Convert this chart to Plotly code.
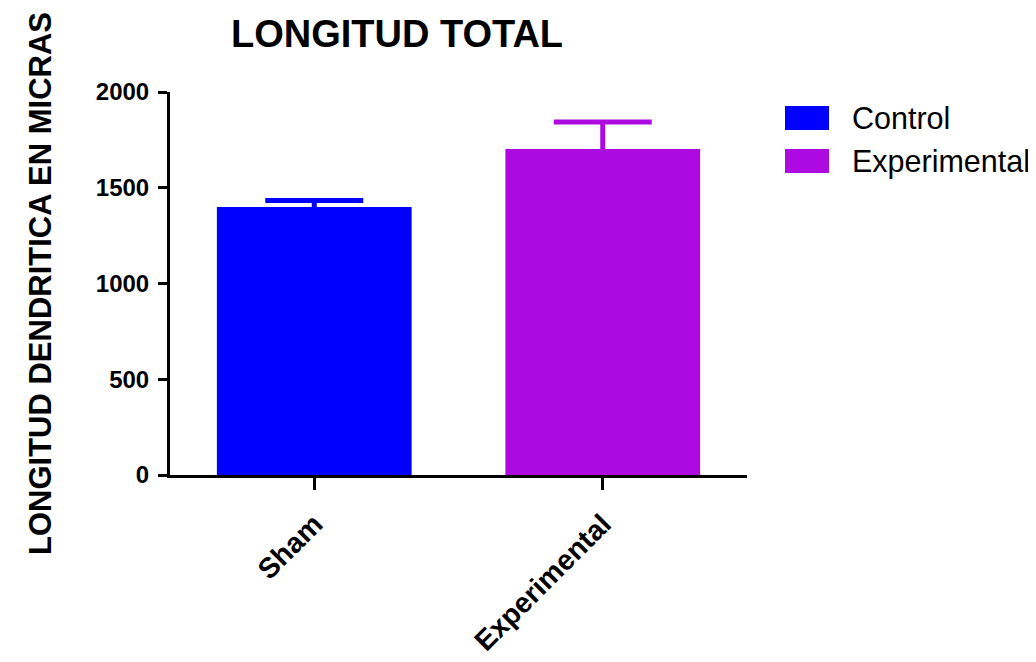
import plotly.graph_objects as go

categories = ["Sham", "Experimental"]
series_names = ["Control", "Experimental"]
means = [1400, 1703]
errors = [34, 140]
colors = ["#0000FF", "#AD0AE1"]
y_ticks = [0, 500, 1000, 1500, 2000]

# page body has an 8px margin, so the figure starts 8px in from the window edge
OFF = 8
W, H = 1036 - OFF, 662 - OFF
L, T = 170 - OFF, 92 - OFF
pw, ph = 577, 383
R = W - L - pw
B = H - T - ph
FONT = "Liberation Sans, Arial, sans-serif"

fig = go.Figure()
for name, cat, m, e, c in zip(series_names, categories, means, errors, colors):
    fig.add_trace(go.Bar(
        name=name, x=[cat], y=[m], width=0.675,
        marker=dict(color=c, line=dict(width=0)),
        error_y=dict(type="data", array=[e], symmetric=True,
                     color=c, thickness=5, width=49),
        showlegend=False,
    ))

# helpers converting window pixel positions to paper coordinates
def px(x):
    return (x - OFF - L) / pw

def py(y):
    return (T + ph - (y - OFF)) / ph

shapes = []
annotations = []
for i, (name, c) in enumerate(zip(series_names, colors)):
    top = 106 + i * 43
    shapes.append(dict(type="rect", xref="paper", yref="paper",
                       x0=px(785), x1=px(829), y0=py(top + 24), y1=py(top),
                       fillcolor=c, line=dict(width=0)))
    annotations.append(dict(text=name, xref="paper", yref="paper",
                            x=px(850), y=py(top + 12), xanchor="left",
                            yanchor="middle", showarrow=False,
                            font=dict(family=FONT, size=30.5, color="black")))

fig.update_layout(
    width=W, height=H,
    margin=dict(l=L, r=R, t=T, b=B, autoexpand=False),
    paper_bgcolor="white", plot_bgcolor="white",
    barmode="overlay",
    title=dict(text="LONGITUD TOTAL", xref="container", yref="container",
               x=(397 - OFF) / W, y=1 - (34 - OFF) / H, xanchor="center",
               yanchor="middle",
               font=dict(family=FONT, size=38, weight="bold", color="black")),
    shapes=shapes,
    annotations=annotations,
    showlegend=False,
)
fig.update_xaxes(
    range=[-0.5, 1.5], showline=True, linecolor="black", linewidth=3,
    ticks="outside", ticklen=12, tickwidth=3, tickcolor="black",
    tickangle=-45, showgrid=False, zeroline=False, automargin=False,
    ticklabelstandoff=6,
    tickfont=dict(family=FONT, size=28.5, weight="bold", color="black"),
)
fig.update_yaxes(
    range=[0, 2000], tickvals=y_ticks, showline=True, linecolor="black",
    linewidth=3, ticks="outside", ticklen=9, tickwidth=3, tickcolor="black",
    showgrid=False, zeroline=False, ticklabelstandoff=4, automargin=False,
    tickfont=dict(family=FONT, size=24, weight="bold", color="black"),
    title=dict(text="LONGITUD DENDRITICA EN MICRAS", standoff=35,
               font=dict(family=FONT, size=31, weight="bold", color="black")),
)

fig.write_html("out.html")
